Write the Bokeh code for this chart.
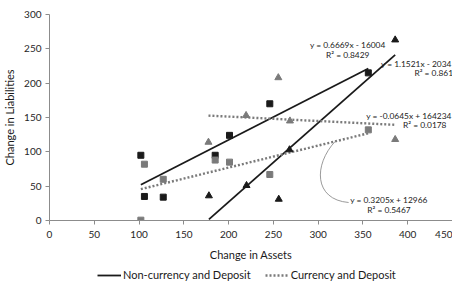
from bokeh.plotting import figure
from bokeh.layouts import column
from bokeh.models import Range1d, FixedTicker, Legend, LegendItem
from bokeh.core.properties import value
from bokeh.embed import file_html
from bokeh.resources import INLINE

# ---- data (axis units) ----
sq_x = [102, 106, 127, 185, 201, 246, 356]
noncur_sq_y = [95, 35, 34, 95, 124, 170, 215]
cur_sq_y = [0.5, 82, 60, 88, 85, 67, 132]

tri_x = [178, 220, 256, 268, 386]
noncur_tri_y = [36, 51, 31, 103, 263]
tri_x_cur = [177.5, 219.5, 255.5, 268.5, 386]
cur_tri_y = [114, 153, 208, 145, 118]

# trendline coefficients (slope, intercept in axis units) as labelled
trend_slopes = [0.6669, 1.1521, 0.3205, -0.0645]
trend_intercepts = [-16.004, -203.4, 12.966, 164.234]
trend_eq = ["y = 0.6669x - 16004", "y = 1.1521x - 2034",
            "y = 0.3205x + 12966", "y = -0.0645x + 164234"]
trend_r2 = ["R\u00b2 = 0.8429", "R\u00b2 = 0.861", "R\u00b2 = 0.5467", "R\u00b2 = 0.0178"]

x_ticks = [0, 50, 100, 150, 200, 250, 300, 350, 400, 450]
y_ticks = [0, 50, 100, 150, 200, 250, 300]
series_names = ["Non-currency and Deposit", "Currency and Deposit"]

FONT = "Lato"
BLACK = "#1a1a1a"
GRAY = "#7a7a7a"

p = figure(frame_width=403, frame_height=206, output_backend="svg", toolbar_location=None,
           x_range=Range1d(0, 450), y_range=Range1d(0, 300),
           min_border_left=47, min_border_right=0, min_border_top=14, min_border_bottom=0)
p.outline_line_color = None
p.grid.visible = False

for ax, ticks in ((p.xaxis[0], x_ticks), (p.yaxis[0], y_ticks)):
    ax.ticker = FixedTicker(ticks=ticks)
    ax.axis_line_color = "#8c8c8c"
    ax.major_tick_line_color = "#8c8c8c"
    ax.major_tick_out = 4
    ax.major_tick_in = 0
    ax.minor_tick_line_color = None
    ax.major_label_text_font = FONT
    ax.major_label_text_font_size = "10px"
    ax.major_label_text_color = "#262626"
    ax.axis_label_text_font = FONT
    ax.axis_label_text_font_size = "11px"
    ax.axis_label_text_font_style = "normal"
    ax.axis_label_text_color = "#1a1a1a"

p.xaxis.axis_label = "Change in Assets"
p.yaxis.axis_label = "Change in Liabilities"
p.xaxis.major_label_standoff = 6
p.xaxis.axis_label_standoff = 7
p.yaxis.major_label_standoff = 4
p.yaxis.axis_label_standoff = 5

# trendlines
def tl(xs, k):
    x0, x1 = min(xs), max(xs)
    return [x0, x1], [trend_slopes[k] * x0 + trend_intercepts[k],
                      trend_slopes[k] * x1 + trend_intercepts[k]]

lx, ly = tl(sq_x, 0)
p.line(lx, ly, line_color=BLACK, line_width=1.8)
lx, ly = tl(tri_x, 1)
p.line(lx, ly, line_color=BLACK, line_width=1.8)
lx, ly = tl(sq_x, 2)
p.line(lx, ly, line_color=GRAY, line_width=2.4, line_dash="2 2")
lx, ly = tl(tri_x_cur, 3)
p.line(lx, ly, line_color=GRAY, line_width=2.4, line_dash="2 2")

# markers
p.scatter(sq_x, noncur_sq_y, marker="square", size=6, color=BLACK)
p.scatter(sq_x, cur_sq_y, marker="square", size=6, color=GRAY)
p.scatter(tri_x, noncur_tri_y, marker="triangle", size=7, color=BLACK)
p.scatter(tri_x_cur, cur_tri_y, marker="triangle", size=7, color=GRAY)

# leader line for the currency-square trendline label
p.bezier(x0=[319], y0=[115.2], x1=[334], y1=[26.2],
         cx0=[294.9], cy0=[81.4], cx1=[294.9], cy1=[30.5],
         line_color="#808080", line_width=0.8)

# trendline labels
eq_x = [333, 449, 379, 449]
eq_y = [255.8, 228.2, 29.5, 152.6]
eq_align = ["center", "right", "center", "right"]
r2_x = [333, 429, 379, 419]
r2_y = [241.3, 215.0, 16.0, 138.5]
for k in range(4):
    p.text([eq_x[k]], [eq_y[k]], text=[trend_eq[k]], text_font=value(FONT),
           text_font_size="8.4px", text_color="#222222",
           text_align=eq_align[k], text_baseline="middle")
    p.text([r2_x[k]], [r2_y[k]], text=[trend_r2[k]], text_font=value(FONT),
           text_font_size="8.4px", text_color="#222222",
           text_align="center", text_baseline="middle")

# legend strip below
q = figure(width=450, height=18, output_backend="svg", toolbar_location=None,
           x_range=Range1d(0, 1), y_range=Range1d(0, 1),
           min_border_left=0, min_border_right=0, min_border_top=0, min_border_bottom=0)
q.outline_line_color = None
q.axis.visible = False
q.grid.visible = False
r_solid = q.line([5, 6], [5, 6], line_color=BLACK, line_width=1.8)
r_dot = q.line([5, 6], [5, 6], line_color=GRAY, line_width=2.4, line_dash="2 2")
legend = Legend(items=[LegendItem(label=series_names[0], renderers=[r_solid]),
                       LegendItem(label=series_names[1], renderers=[r_dot])],
                orientation="horizontal", location=(48, 0),
                label_text_font=FONT, label_text_font_size="11px", label_text_color="#1a1a1a",
                glyph_width=24, glyph_height=10, label_standoff=2, spacing=14,
                padding=0, margin=0, border_line_color=None, background_fill_alpha=0,
                label_height=12)
q.add_layout(legend, "center")

open("out.html", "w").write(file_html(column(p, q), INLINE))
